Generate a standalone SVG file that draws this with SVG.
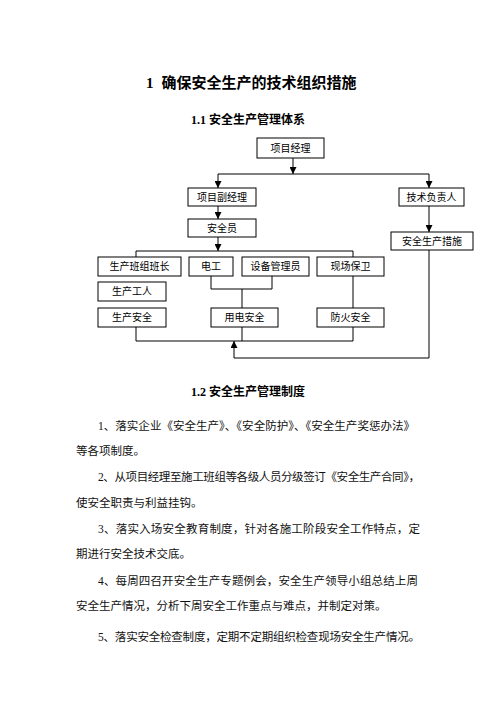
<svg xmlns="http://www.w3.org/2000/svg" width="496" height="702" viewBox="0 0 496 702">
<defs>
<style>
.b{fill:#fff;stroke:#000;stroke-width:1}
.t{font-family:"Liberation Sans","Noto Sans CJK SC",sans-serif;font-size:10px;fill:#000;text-anchor:middle}
.h{font-family:"Liberation Serif","Noto Sans CJK SC",serif;font-weight:bold;fill:#000}
.p{font-family:"Liberation Serif","Noto Sans CJK SC",serif;font-size:11.5px;fill:#111}
.c{fill:none;stroke:#000;stroke-width:1}
</style>
<marker id="a" viewBox="0 0 8 8" refX="8" refY="4" markerWidth="7" markerHeight="7" markerUnits="userSpaceOnUse" orient="auto">
<path d="M0,0 L8,4 L0,8 z" fill="#000"/>
</marker>
</defs>
<rect width="496" height="702" fill="#fff"/>
<text class="h" y="88" font-size="15"><tspan x="146">1</tspan><tspan x="161.5" textLength="195" lengthAdjust="spacing">确保安全生产的技术组织措施</tspan></text>
<text class="h" x="248" y="124" font-size="12" text-anchor="middle">1.1 安全生产管理体系</text>

<g id="connectors">
<path class="c" d="M293,158 V174" marker-end="url(#a)"/>
<path class="c" d="M218,174 H429"/>
<path class="c" d="M218,174 V188" marker-end="url(#a)"/>
<path class="c" d="M429,174 V188" marker-end="url(#a)"/>
<path class="c" d="M218,206 V219" marker-end="url(#a)"/>
<path class="c" d="M429,206 V232" marker-end="url(#a)"/>
<path class="c" d="M218,237 V251" marker-end="url(#a)"/>
<path class="c" d="M136,257 V251 H353 V257"/>
<path class="c" d="M211,276 V289 H272 V276"/>
<path class="c" d="M242,289 V308"/>
<path class="c" d="M353,276 V308"/>
<path class="c" d="M136,327 V341 H353 V327"/>
<path class="c" d="M242,327 V341"/>
<path class="c" d="M429,250 V358 H234 V341" marker-end="url(#a)"/>
</g>

<g id="n1"><rect class="b" x="257" y="138" width="67" height="20"/><text class="t" x="290.5" y="151.5">项目经理</text></g>
<g id="n2"><rect class="b" x="188" y="188" width="68" height="18"/><text class="t" x="222" y="200.5">项目副经理</text></g>
<g id="n3"><rect class="b" x="399" y="188" width="65" height="18"/><text class="t" x="431.5" y="200.5">技术负责人</text></g>
<g id="n4"><rect class="b" x="188" y="219" width="68" height="18"/><text class="t" x="222" y="231.5">安全员</text></g>
<g id="n5"><rect class="b" x="391" y="232" width="82" height="18"/><text class="t" x="432" y="244.5">安全生产措施</text></g>
<g id="n6"><rect class="b" x="98" y="257" width="83" height="19"/><text class="t" x="139.5" y="270">生产班组班长</text></g>
<g id="n7"><rect class="b" x="189" y="257" width="44" height="19"/><text class="t" x="211" y="270">电工</text></g>
<g id="n8"><rect class="b" x="242" y="257" width="67" height="19"/><text class="t" x="275.5" y="270">设备管理员</text></g>
<g id="n9"><rect class="b" x="317" y="257" width="67" height="19"/><text class="t" x="350.5" y="270">现场保卫</text></g>
<g id="n10"><rect class="b" x="98" y="282" width="68" height="19"/><text class="t" x="132" y="295">生产工人</text></g>
<g id="n11"><rect class="b" x="98" y="308" width="68" height="19"/><text class="t" x="132" y="321">生产安全</text></g>
<g id="n12"><rect class="b" x="211" y="308" width="67" height="19"/><text class="t" x="244.5" y="321">用电安全</text></g>
<g id="n13"><rect class="b" x="317" y="308" width="67" height="19"/><text class="t" x="350.5" y="321">防火安全</text></g>

<text class="h" x="248" y="396" font-size="12" text-anchor="middle">1.2 安全生产管理制度</text>
<text class="p" x="98" y="430" textLength="317" lengthAdjust="spacing">1、落实企业《安全生产》、《安全防护》、《安全生产奖惩办法》</text>
<text class="p" x="76" y="455">等各项制度。</text>
<text class="p" x="98" y="481" textLength="322" lengthAdjust="spacing">2、从项目经理至施工班组等各级人员分级签订《安全生产合同》，</text>
<text class="p" x="76" y="507">使安全职责与利益挂钩。</text>
<text class="p" x="98" y="533" textLength="322" lengthAdjust="spacing">3、落实入场安全教育制度，针对各施工阶段安全工作特点，定</text>
<text class="p" x="76" y="558">期进行安全技术交底。</text>
<text class="p" x="98" y="585" textLength="320" lengthAdjust="spacing">4、每周四召开安全生产专题例会，安全生产领导小组总结上周</text>
<text class="p" x="76" y="610">安全生产情况，分析下周安全工作重点与难点，并制定对策。</text>
<text class="p" x="98" y="641" textLength="322" lengthAdjust="spacing">5、落实安全检查制度，定期不定期组织检查现场安全生产情况。</text>
</svg>
